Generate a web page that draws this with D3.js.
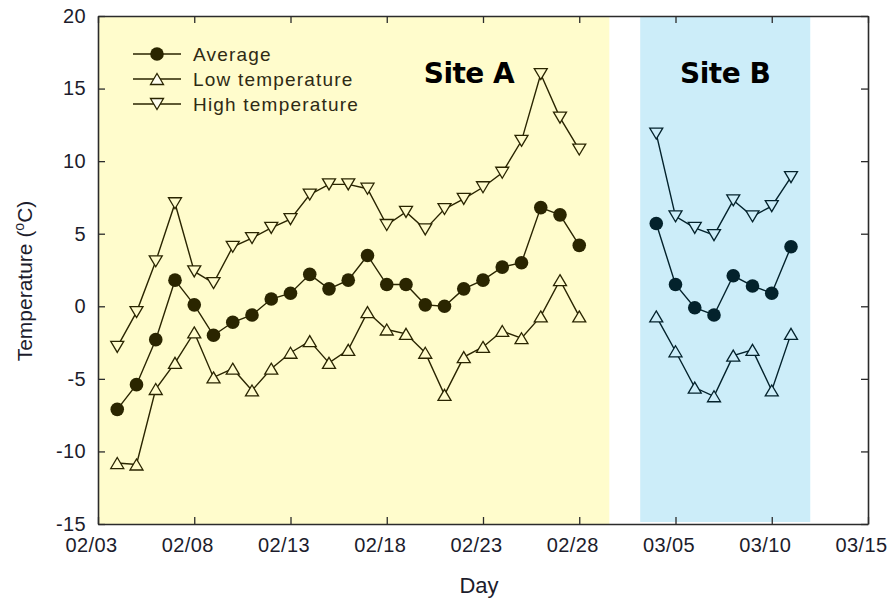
<!DOCTYPE html>
<html>
<head>
<meta charset="utf-8">
<script src="https://cdn.jsdelivr.net/npm/d3@7"></script>
<style>
  body { margin: 0; background: #fff; }
  svg { display: block; font-family: "Liberation Sans", Arial, sans-serif; }
</style>
</head>
<body>
<div id="chart"></div>
<script>
// data
var siteADays = ['02/04', '02/05', '02/06', '02/07', '02/08', '02/09', '02/10', '02/11', '02/12',
    '02/13', '02/14', '02/15', '02/16', '02/17', '02/18', '02/19', '02/20', '02/21', '02/22',
    '02/23', '02/24', '02/25', '02/26', '02/27', '02/28'];
var avgA = [-7.1, -5.4, -2.3, 1.8, 0.1, -2.0, -1.1, -0.6, 0.5, 0.9, 2.2, 1.2, 1.8, 3.5, 1.5, 1.5,
    0.1, 0.0, 1.2, 1.8, 2.7, 3.0, 6.8, 6.3, 4.2];
var lowA = [-10.8, -10.9, -5.7, -3.9, -1.8, -4.9, -4.3, -5.8, -4.3, -3.2, -2.4, -3.9, -3.0, -0.4,
    -1.6, -1.9, -3.2, -6.1, -3.5, -2.8, -1.7, -2.2, -0.7, 1.8, -0.7];
var highA = [-2.8, -0.4, 3.1, 7.1, 2.4, 1.6, 4.1, 4.7, 5.4, 6.0, 7.7, 8.4, 8.4, 8.1, 5.6, 6.5,
    5.3, 6.7, 7.4, 8.2, 9.2, 11.4, 16.0, 13.0, 10.8];

var siteBDays = ['03/04', '03/05', '03/06', '03/07', '03/08', '03/09', '03/10', '03/11'];
var avgB = [5.7, 1.5, -0.1, -0.6, 2.1, 1.4, 0.9, 4.1];
var lowB = [-0.7, -3.1, -5.6, -6.2, -3.4, -3.0, -5.8, -1.9];
var highB = [11.9, 6.2, 5.4, 4.9, 7.3, 6.2, 6.9, 8.9];

var xTicks = ['02/03', '02/08', '02/13', '02/18', '02/23', '02/28', '03/05', '03/10', '03/15'];
var yTicks = [-15, -10, -5, 0, 5, 10, 15, 20];
var seriesNames = ['Average', 'Low temperature', 'High temperature'];
var siteNames = ['Site A', 'Site B'];
var siteSpans = [['02/03 00:00', '03/01 13:30'], ['03/03 04:00', '03/12 00:00']];

var parseDay = d3.timeParse('%Y/%m/%d'),
    parseStamp = d3.timeParse('%Y/%m/%d %H:%M'),
    day = function (s) { return parseDay('2021/' + s); },
    stamp = function (s) { return parseStamp('2021/' + s); };

var width = 892, height = 604,
    margin = {top: 16, right: 24, bottom: 80, left: 98},
    innerW = width - margin.left - margin.right,
    innerH = height - margin.top - margin.bottom;

var x = d3.scaleTime()
        .domain([day('02/03'), day('03/15')])
        .range([0, innerW]);

var y = d3.scaleLinear()
        .domain([-15, 20])
        .range([innerH, 0]);

var svg = d3.select('#chart')
        .append('svg')
        .attr('width', width)
        .attr('height', height);

var main = svg.append('g')
        .attr('transform', 'translate(' + margin.left + ',' + margin.top + ')');

// shaded site bands
var bandFill = ['#fffccc', '#ccedf9'],
    inkColor = ['#2a2500', '#03222c'];

main.selectAll('rect.band')
        .data(siteSpans)
        .enter().append('rect')
        .attr('class', 'band')
        .attr('x', function (d) { return x(stamp(d[0])); })
        .attr('y', 0)
        .attr('width', function (d) { return x(stamp(d[1])) - x(stamp(d[0])); })
        .attr('height', function (d, i) { return i === 0 ? innerH : innerH - 2; })
        .attr('fill', function (d, i) { return bandFill[i]; });

// axes (ticks inside, frame on all sides)
var tickLen = 7;
var xAxis = d3.axisBottom(x).tickValues(xTicks.map(day)).tickFormat(d3.timeFormat('%m/%d'))
        .tickSizeInner(-tickLen).tickSizeOuter(0).tickPadding(14);
var yAxis = d3.axisLeft(y).tickValues(yTicks).tickFormat(String)
        .tickSizeInner(-tickLen).tickSizeOuter(0).tickPadding(12);

var gx = main.append('g').attr('transform', 'translate(0,' + innerH + ')').call(xAxis);
var gy = main.append('g').call(yAxis);
var gxTop = main.append('g').call(d3.axisTop(x).tickValues(xTicks.map(day))
        .tickSizeInner(-tickLen).tickSizeOuter(0).tickFormat(''));
var gyRight = main.append('g').attr('transform', 'translate(' + innerW + ',0)')
        .call(d3.axisRight(y).tickValues(yTicks).tickSizeInner(-tickLen).tickSizeOuter(0).tickFormat(''));

[gx, gy, gxTop, gyRight].forEach(function (g) {
    g.select('.domain').attr('stroke', '#2b2b2b').attr('stroke-width', 1.6);
    g.selectAll('.tick line').attr('stroke', '#2b2b2b').attr('stroke-width', 1.3);
    g.selectAll('.tick text')
            .attr('fill', '#1c1c2c')
            .style('font-size', '20px')
            .style('letter-spacing', '0.4px');
});
// date labels sit a little left of their ticks, as in the original
gx.selectAll('.tick text').attr('x', -7);

// axis titles
svg.append('text')
        .attr('x', 479)
        .attr('y', 593)
        .attr('text-anchor', 'middle')
        .attr('fill', '#1c1c2c')
        .style('font-size', '22px')
        .text('Day');

var yTitle = svg.append('text')
        .attr('transform', 'translate(32,281) rotate(-90)')
        .attr('text-anchor', 'middle')
        .attr('fill', '#1c1c2c')
        .style('font-size', '21px');
yTitle.append('tspan').text('Temperature (');
yTitle.append('tspan').attr('baseline-shift', 'super').style('font-size', '14px').text('o');
yTitle.append('tspan').text('C)');

// series
var up = 'M0,-5.5L6.5,5.5L-6.5,5.5Z',
    down = 'M0,5.5L6.5,-5.5L-6.5,-5.5Z';

var line = d3.line()
        .x(function (d) { return x(d.date); })
        .y(function (d) { return y(d.value); });

function zip(days, values) {
    return days.map(function (s, i) { return {date: day(s), value: values[i]}; });
}

var sites = [
    {days: siteADays, avg: avgA, low: lowA, high: highA},
    {days: siteBDays, avg: avgB, low: lowB, high: highB}
];

sites.forEach(function (site, si) {
    var ink = inkColor[si], fill = bandFill[si];
    var sets = [
        {pts: zip(site.days, site.high), mark: down},
        {pts: zip(site.days, site.low), mark: up},
        {pts: zip(site.days, site.avg), mark: null}
    ];
    sets.forEach(function (s) {
        main.append('path')
                .datum(s.pts)
                .attr('d', line)
                .attr('fill', 'none')
                .attr('stroke', ink)
                .attr('stroke-width', 1.4);
        if (s.mark) {
            main.selectAll(null)
                    .data(s.pts)
                    .enter().append('path')
                    .attr('d', s.mark)
                    .attr('transform', function (d) { return 'translate(' + x(d.date) + ',' + y(d.value) + ')'; })
                    .attr('fill', fill)
                    .attr('stroke', ink)
                    .attr('stroke-width', 1.3);
        } else {
            main.selectAll(null)
                    .data(s.pts)
                    .enter().append('circle')
                    .attr('cx', function (d) { return x(d.date); })
                    .attr('cy', function (d) { return y(d.value); })
                    .attr('r', 6.8)
                    .attr('fill', ink);
        }
    });

    // site label
    var span = siteSpans[si];
    main.append('text')
            .attr('x', si === 0 ? 371 : (x(stamp(span[0])) + x(stamp(span[1]))) / 2)
            .attr('y', 67)
            .attr('text-anchor', 'middle')
            .attr('fill', '#000')
            .style('font-family', '"DejaVu Sans", Verdana, sans-serif')
            .style('font-weight', 'bold')
            .style('font-size', '28px')
            .style('letter-spacing', '-0.5px')
            .text(siteNames[si]);
});

// legend
var legendMarks = [null, up, down];
var legend = main.append('g').attr('transform', 'translate(35,38)');
seriesNames.forEach(function (name, i) {
    var row = legend.append('g').attr('transform', 'translate(0,' + (i * 25) + ')');
    row.append('line').attr('x1', 0).attr('x2', 48).attr('stroke', inkColor[0]).attr('stroke-width', 1.4);
    if (legendMarks[i]) {
        row.append('path').attr('d', legendMarks[i]).attr('transform', 'translate(24,0)')
                .attr('fill', '#fffef0').attr('stroke', inkColor[0]).attr('stroke-width', 1.3);
    } else {
        row.append('circle').attr('cx', 24).attr('r', 6.8).attr('fill', inkColor[0]);
    }
    row.append('text')
            .attr('x', 60)
            .attr('dy', '0.35em')
            .attr('fill', '#2e2a14')
            .style('font-size', '19px')
            .style('letter-spacing', '1.2px')
            .text(name);
});
</script>
</body>
</html>
